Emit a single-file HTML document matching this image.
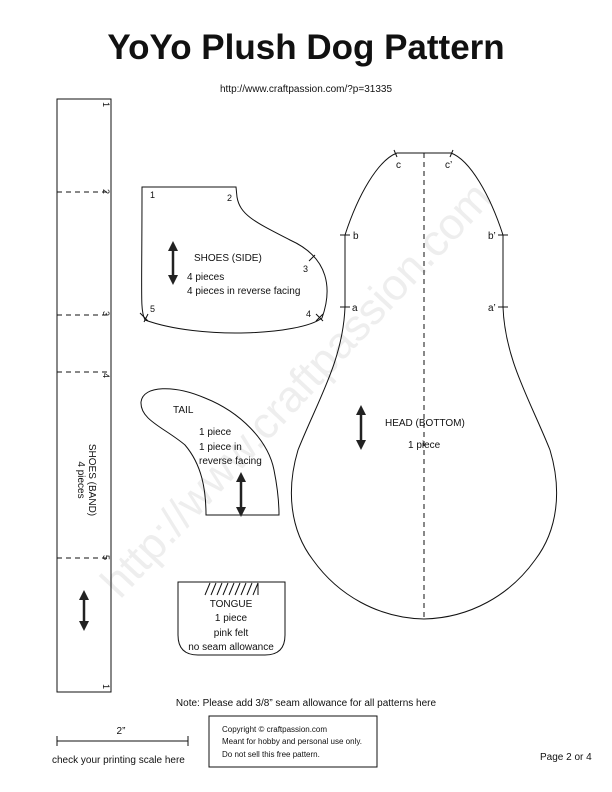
<!DOCTYPE html>
<html><head><meta charset="utf-8"><style>
html,body{margin:0;padding:0;background:#fff;}
svg{display:block;font-family:"Liberation Sans",sans-serif;}
</style></head><body>
<svg width="612" height="792" viewBox="0 0 612 792" xmlns="http://www.w3.org/2000/svg">
<defs>
<marker id="ah" viewBox="0 0 10 10" refX="5" refY="5" markerWidth="4" markerHeight="4" orient="auto-start-reverse"><path d="M0,0L10,5L0,10z" fill="#222"/></marker>
</defs>
<text x="120" y="600" transform="rotate(-47 120 600)" font-size="44" fill="#eeeeee">http://www.craftpassion.com</text>
<text x="306" y="59" text-anchor="middle" font-size="35" font-weight="bold" fill="#111">YoYo Plush Dog Pattern</text>
<text x="306" y="92" text-anchor="middle" font-size="10" fill="#111">http://www.craftpassion.com/?p=31335</text>

<g fill="none" stroke="#111" stroke-width="1">
<rect x="57" y="99" width="54" height="593"/>
<g stroke-dasharray="5,4">
<line x1="57" y1="192" x2="111" y2="192"/><line x1="57" y1="315" x2="111" y2="315"/>
<line x1="57" y1="372" x2="111" y2="372"/><line x1="57" y1="558" x2="111" y2="558"/>
<line x1="424" y1="153" x2="424" y2="618"/>
</g>
<path d="M142,187 L236,187 L237,197 C240,215 255,222 290,240 C330,258 332,290 322,318 C300,335 200,340 145,320 C140,310 142,300 142,187 Z"/>
<path d="M141,402 C143,385 175,385 205,398 C240,412 268,440 274,470 C278,490 279,505 279,515 L206,515 C206,490 202,465 185,445 C165,428 140,420 141,402 Z"/>
<path d="M178,582 L285,582 L285,635 Q285,655 265,655 L198,655 Q178,655 178,635 Z"/>
<path d="M205,595 L210,583 M211,595 L216,583 M217,595 L222,583 M223,595 L228,583 M229,595 L234,583 M235,595 L240,583 M241,595 L246,583 M247,595 L252,583 M253,595 L258,583 M258,583 L258,595"/>
<path d="M397,153 L451,153 C470,160 490,195 503,235 L503,307 C505,360 530,400 550,450 C562,490 558,530 535,560 C510,595 470,618 424,619 C378,618 338,595 313,560 C290,530 286,490 298,450 C318,400 343,360 345,307 L345,235 C358,195 378,160 397,153 Z"/>
<path d="M340,235h10M340,307h10M498,235h10M498,307h10M394,150l3,7M453,150l-3,7M315,255l-6,6M316,314l7,7M323,314l-7,7M140,313l8,8M144,322l4,-8"/>
<line x1="57" y1="741" x2="188" y2="741"/><line x1="57" y1="736" x2="57" y2="746"/><line x1="188" y1="736" x2="188" y2="746"/>
<rect x="209" y="716" width="168" height="51"/>
</g>
<g stroke="#222" stroke-width="2.5" marker-start="url(#ah)" marker-end="url(#ah)">
<line x1="173" y1="246" x2="173" y2="280"/><line x1="241" y1="477" x2="241" y2="512"/>
<line x1="84" y1="595" x2="84" y2="626"/><line x1="361" y1="410" x2="361" y2="445"/>
</g>
<g font-size="9" fill="#111">
<text transform="translate(103,102) rotate(90)">1</text><text transform="translate(103,189) rotate(90)">2</text>
<text transform="translate(103,311) rotate(90)">3</text><text transform="translate(103,373) rotate(90)">4</text>
<text transform="translate(103,555) rotate(90)">5</text><text transform="translate(103,684) rotate(90)">1</text>
<text transform="translate(89,480) rotate(90)" text-anchor="middle" font-size="10">SHOES (BAND)</text>
<text transform="translate(78,480) rotate(90)" text-anchor="middle" font-size="10">4 pieces</text>
<text x="150" y="198">1</text><text x="227" y="201">2</text><text x="303" y="272">3</text><text x="306" y="317">4</text><text x="150" y="312">5</text>
<g font-size="10">
<text x="194" y="261">SHOES (SIDE)</text><text x="187" y="280">4 pieces</text><text x="187" y="294">4 pieces in reverse facing</text>
<text x="173" y="413">TAIL</text><text x="199" y="435">1 piece</text><text x="199" y="450">1 piece in</text><text x="199" y="464">reverse facing</text>
<g text-anchor="middle"><text x="231" y="607">TONGUE</text><text x="231" y="621">1 piece</text><text x="231" y="636">pink felt</text><text x="231" y="650">no seam allowance</text></g>
<text x="385" y="426">HEAD (BOTTOM)</text><text x="408" y="448">1 piece</text>
<text x="396" y="168">c</text><text x="445" y="168">c’</text><text x="353" y="239">b</text><text x="488" y="239">b’</text>
<text x="352" y="311">a</text><text x="488" y="311">a’</text>
<text x="306" y="706" text-anchor="middle">Note: Please add 3/8” seam allowance for all patterns here</text>
<text x="121" y="734" text-anchor="middle">2”</text>
<text x="52" y="763">check your printing scale here</text>
<text x="540" y="760">Page 2 or 4</text>
</g>
<g font-size="8"><text x="222" y="732">Copyright © craftpassion.com</text><text x="222" y="744">Meant for hobby and personal use only.</text><text x="222" y="757">Do not sell this free pattern.</text></g>
</g>
</svg>
</body></html>
